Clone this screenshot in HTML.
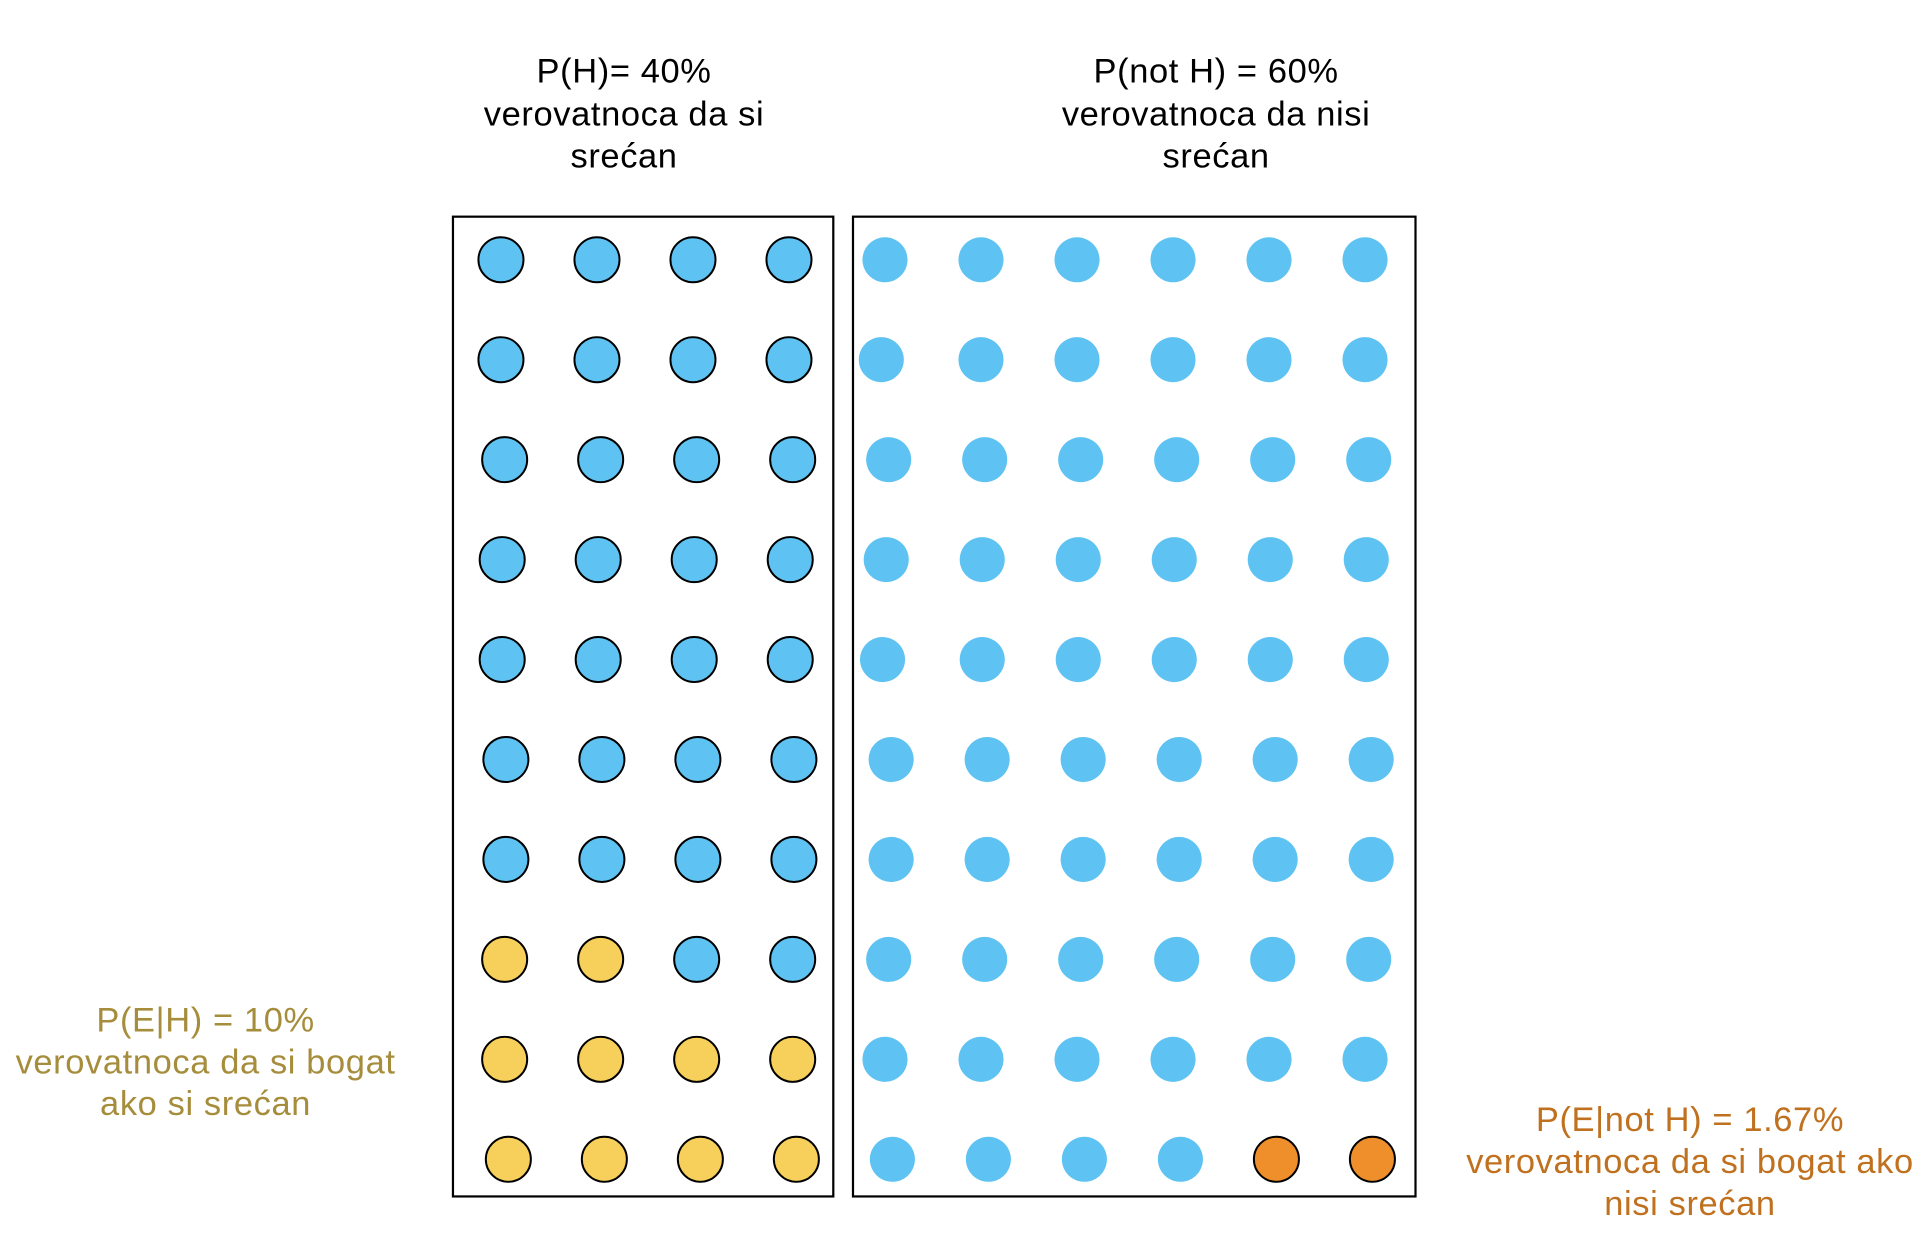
<!DOCTYPE html>
<html><head><meta charset="utf-8"><style>html,body{margin:0;padding:0;background:#fff}svg{display:block}text{font-family:"Liberation Sans",sans-serif;font-size:28px;letter-spacing:0.5px;text-anchor:middle;dominant-baseline:central}</style></head>
<body>
<svg id="chart" width="1930" height="1244" viewBox="0 0 1568 1010.6" xmlns="http://www.w3.org/2000/svg">
<g><text x="507" y="58">P(H)= 40%</text><text x="507" y="93">verovatnoca da si</text><text x="507" y="127">srećan</text></g>
<g><text x="988" y="58">P(not H) = 60%</text><text x="988" y="93">verovatnoca da nisi</text><text x="988" y="127">srećan</text></g>
<g fill="#a68d3c"><text x="167" y="829">P(E|H) = 10%</text><text x="167" y="863">verovatnoca da si bogat</text><text x="167" y="897">ako si srećan</text></g>
<g fill="#c0711f"><text x="1373" y="910">P(E|not H) = 1.67%</text><text x="1373" y="944">verovatnoca da si bogat ako</text><text x="1373" y="978">nisi srećan</text></g>
<rect x="368" y="176" width="309" height="796" fill="none" stroke="#000" stroke-width="1.8"/>
<rect x="693" y="176" width="457" height="796" fill="none" stroke="#000" stroke-width="1.8"/>
<g id="dots"></g>
</svg>
<script>
// data
const rows = 10;
const happyCols = 4;
const notHappyCols = 6;
const happyRichCount = 10;   // yellow dots in happy group (filled from bottom-left)
const notHappyRichCount = 2; // orange dots in not-happy group (bottom-right)
const leftRowOffsets = [0,0,3,1,1,4,4,3,3,6];
const rightRowOffsets = [0,0,3,1,1,5,5,3,0,6];
const rightFirstColOffsets = [0,-3,0,0,-3,0,0,0,0,0];

const svgNS = "http://www.w3.org/2000/svg";
const g = document.getElementById('dots');
function yPos(r){ return 211 + r * 81.2; }
function xLeft(c,r){ return 407 + c * 78 + leftRowOffsets[r]; }
function xRight(c,r){ return 719 + c * 78 + rightRowOffsets[r] + (c === 0 ? rightFirstColOffsets[r] : 0); }
const R = 18.3;
for (let r = 0; r < rows; r++) {
  for (let c = 0; c < happyCols; c++) {
    const idxFromBottom = (rows - 1 - r) * happyCols + c;
    const rich = idxFromBottom < happyRichCount;
    const el = document.createElementNS(svgNS, 'circle');
    el.setAttribute('cx', xLeft(c, r)); el.setAttribute('cy', yPos(r)); el.setAttribute('r', R);
    el.setAttribute('fill', rich ? '#f6d05a' : '#5ec3f2');
    el.setAttribute('stroke', '#000'); el.setAttribute('stroke-width', '1.6');
    
    
    g.appendChild(el);
  }
  for (let c = 0; c < notHappyCols; c++) {
    const idxFromBottomRight = (rows - 1 - r) * notHappyCols + (notHappyCols - 1 - c);
    const rich = idxFromBottomRight < notHappyRichCount;
    const el = document.createElementNS(svgNS, 'circle');
    el.setAttribute('cx', xRight(c, r)); el.setAttribute('cy', yPos(r)); el.setAttribute('r', R);
    el.setAttribute('fill', rich ? '#ef8f2c' : '#5ec3f2');
    if (rich) { el.setAttribute('stroke', '#000'); el.setAttribute('stroke-width', '1.6'); }
    
    
    g.appendChild(el);
  }
}
</script>
</body></html>
